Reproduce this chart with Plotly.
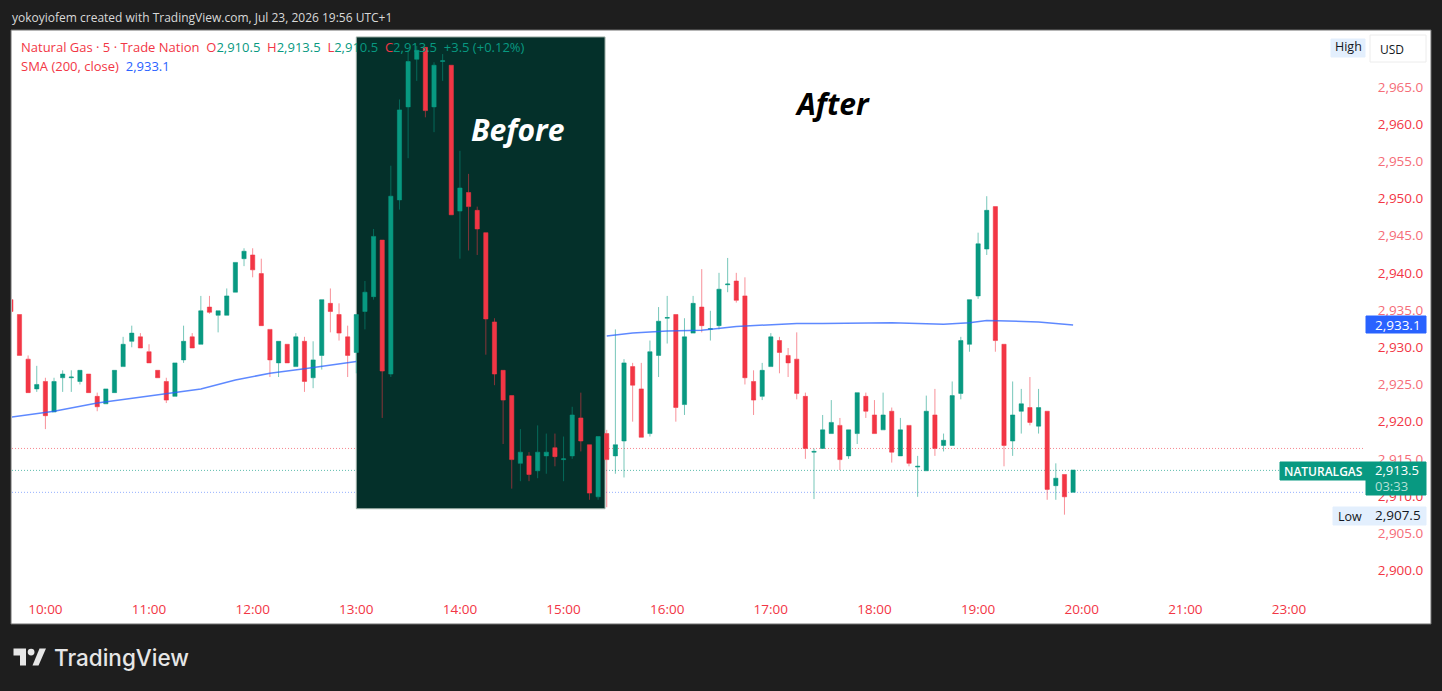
import pandas as pd
import plotly.graph_objects as go

W, H = 1442, 691
PLOT_L, PLOT_R, PLOT_T, PLOT_B = 12, 1365, 31, 594

UP = "#089981"
DOWN = "#f23645"
FONT = "Open Sans"

# 5 min bars, first one is 09:40
times = pd.date_range("2026-07-23 09:40", periods=124, freq="5min")

opens = [2936.4, 2934.4, 2928.4, 2924.4, 2925.4, 2921.3, 2925.9, 2925.9, 2925.4, 2926.4, 2923.4, 2922.4, 2923.9, 2927.4, 2930.8,
         2931.4, 2929.4, 2926.9, 2925.4, 2923.4, 2928.3, 2931.4, 2930.4, 2935.4, 2934.3, 2934.3, 2937.4, 2941.9, 2942.4, 2939.9,
         2932.4, 2927.9, 2930.4, 2927.4, 2930.8, 2925.9, 2928.9, 2935.9, 2934.4, 2931.4, 2929.3, 2934.8, 2936.8, 2944.4, 2926.4,
         2949.8, 2962.3, 2968.7, 2970.3, 2962.3, 2968.4, 2967.9, 2948.3, 2950.8, 2948.4, 2945.4, 2933.4, 2926.9, 2923.5, 2914.4,
         2915.4, 2913.4, 2915.4, 2916.5, 2914.9, 2915.4, 2920.5, 2916.9, 2909.9, 2918.4, 2915.4, 2917.4, 2927.4, 2924.4, 2918.4,
         2928.9, 2933.9, 2934.4, 2922.3, 2931.9, 2935.4, 2932.4, 2932.9, 2938.4, 2938.9, 2936.9, 2925.4, 2923.4, 2927.4, 2930.9,
         2928.9, 2928.4, 2923.4, 2915.9, 2916.4, 2918.4, 2919.5, 2915.4, 2918.4, 2923.4, 2920.9, 2918.9, 2921.4, 2915.4, 2919.5,
         2913.9, 2913.4, 2920.9, 2916.8, 2916.8, 2923.8, 2930.4, 2936.9, 2943.2, 2948.9, 2930.4, 2917.4, 2921.4, 2921.9, 2919.4,
         2921.4, 2911.4, 2912.9, 2910.5]
highs = [2936.4, 2934.4, 2928.9, 2927.5, 2925.9, 2925.9, 2926.9, 2926.9, 2926.9, 2926.4, 2923.9, 2924.4, 2926.9, 2931.4, 2932.9,
         2931.9, 2930.4, 2926.9, 2925.9, 2927.9, 2932.9, 2931.9, 2936.9, 2936.9, 2934.9, 2937.9, 2941.4, 2943.3, 2943.3, 2941.9,
         2932.4, 2930.8, 2930.4, 2931.9, 2931.4, 2930.8, 2936.4, 2937.9, 2935.9, 2932.9, 2934.4, 2938.9, 2945.9, 2944.4, 2954.4,
         2963.3, 2970.0, 2970.5, 2970.3, 2968.3, 2969.4, 2967.9, 2956.4, 2953.3, 2948.9, 2945.4, 2933.9, 2926.9, 2923.5, 2919.0,
         2915.9, 2919.5, 2918.4, 2918.4, 2918.0, 2922.0, 2923.9, 2916.9, 2918.0, 2918.9, 2932.4, 2928.4, 2927.9, 2927.9, 2930.9,
         2935.4, 2936.9, 2934.4, 2933.9, 2936.9, 2940.5, 2934.9, 2940.0, 2942.0, 2940.0, 2939.4, 2926.9, 2927.9, 2931.9, 2931.4,
         2929.9, 2932.0, 2923.9, 2916.4, 2920.9, 2922.9, 2920.5, 2918.9, 2923.9, 2923.9, 2922.9, 2923.9, 2921.9, 2920.5, 2919.5,
         2915.4, 2923.5, 2924.4, 2918.4, 2925.4, 2931.4, 2936.4, 2945.4, 2950.3, 2948.9, 2930.4, 2925.4, 2924.4, 2926.0, 2924.4,
         2921.4, 2914.4, 2912.9, 2913.5]
lows = [2934.8, 2928.9, 2923.9, 2924.0, 2919.0, 2921.3, 2924.0, 2924.0, 2925.0, 2923.9, 2921.4, 2922.4, 2923.9, 2927.4, 2930.0,
        2929.9, 2927.9, 2925.9, 2922.5, 2923.4, 2927.9, 2929.9, 2930.4, 2934.5, 2932.0, 2934.3, 2937.4, 2940.9, 2939.4, 2932.9,
        2926.0, 2926.0, 2927.9, 2927.4, 2924.0, 2924.5, 2927.0, 2932.0, 2930.9, 2926.0, 2926.5, 2932.4, 2936.4, 2920.5, 2926.0,
        2948.5, 2955.4, 2965.8, 2960.9, 2958.9, 2965.8, 2947.8, 2941.9, 2943.0, 2942.4, 2929.0, 2924.9, 2917.0, 2911.0, 2912.0,
        2912.0, 2912.4, 2913.0, 2914.0, 2912.0, 2915.0, 2916.0, 2909.5, 2909.5, 2908.5, 2913.0, 2912.5, 2920.0, 2917.9, 2918.0,
        2926.0, 2930.5, 2920.0, 2920.9, 2931.9, 2932.0, 2930.9, 2932.4, 2937.4, 2936.0, 2925.0, 2920.9, 2922.9, 2927.4, 2926.5,
        2926.0, 2923.0, 2915.0, 2909.6, 2916.4, 2918.4, 2913.5, 2915.0, 2917.0, 2920.5, 2918.4, 2918.9, 2914.5, 2915.4, 2914.0,
        2909.9, 2913.4, 2915.4, 2916.0, 2916.8, 2923.0, 2929.4, 2936.5, 2942.4, 2929.4, 2914.0, 2915.4, 2918.4, 2919.5, 2918.4,
        2909.5, 2909.5, 2907.5, 2910.5]
closes = [2934.8, 2928.9, 2923.9, 2925.0, 2920.8, 2925.4, 2926.4, 2926.0, 2926.9, 2923.9, 2922.0, 2924.4, 2926.9, 2930.4, 2931.9,
          2929.9, 2927.9, 2925.9, 2922.9, 2927.9, 2930.8, 2929.9, 2934.9, 2934.7, 2934.9, 2936.9, 2941.4, 2942.9, 2940.4, 2932.9,
          2928.3, 2930.8, 2927.9, 2931.4, 2925.4, 2928.3, 2936.4, 2934.8, 2931.9, 2928.9, 2934.4, 2937.4, 2944.9, 2926.8, 2950.3,
          2961.9, 2968.4, 2969.9, 2961.8, 2967.9, 2968.5, 2947.8, 2951.4, 2948.9, 2945.9, 2933.8, 2926.4, 2922.9, 2914.9, 2915.9,
          2912.9, 2915.9, 2915.9, 2915.3, 2915.0, 2920.9, 2917.4, 2910.4, 2918.0, 2914.9, 2916.9, 2927.9, 2924.9, 2917.9, 2929.4,
          2933.5, 2934.0, 2921.9, 2931.4, 2935.9, 2932.9, 2932.5, 2937.8, 2938.5, 2936.3, 2925.9, 2922.9, 2926.9, 2931.4, 2929.3,
          2927.9, 2923.8, 2916.4, 2916.0, 2918.9, 2919.9, 2914.9, 2918.9, 2923.9, 2921.4, 2918.4, 2920.9, 2915.9, 2918.9, 2914.4,
          2914.0, 2921.4, 2916.4, 2917.5, 2923.5, 2930.9, 2936.4, 2943.9, 2948.4, 2930.9, 2916.8, 2920.9, 2922.4, 2919.9, 2921.9,
          2910.9, 2912.4, 2909.9, 2913.5]

# SMA is covered by the dark box between 13:00 and 15:25
sma_times = ["09:40", "10:05", "10:30", "11:10", "11:30", "11:50", "12:10", "12:30", "12:45", "13:00", None,
             "15:25", "15:40", "16:00", "16:20", "16:40", "17:00", "17:15", "17:30", "18:10", "18:40", "18:55", "19:05", "19:35", "19:55"]
sma_values = [2920.6, 2921.4, 2922.5, 2923.8, 2924.4, 2925.6, 2926.5, 2927.1, 2927.6, 2928.1, None,
              2931.5, 2931.9, 2932.2, 2932.3, 2932.8, 2933.0, 2933.2, 2933.2, 2933.3, 2933.1, 2933.3, 2933.6, 2933.4, 2933.0]

hour_ticks = ["10:00", "11:00", "12:00", "13:00", "14:00", "15:00", "16:00", "17:00", "18:00", "19:00", "20:00", "21:00", "23:00"]
price_ticks = [2900, 2905, 2910, 2915, 2920, 2925, 2930, 2935, 2940, 2945, 2950, 2955, 2960, 2965]

high_line = 2916.4
last_line = 2913.45
open_line = 2910.5


def day(t):
    return None if t is None else f"2026-07-23 {t}"


def px(x):
    return (x - PLOT_L) / (PLOT_R - PLOT_L)


def py(y):
    return (PLOT_B - y) / (PLOT_B - PLOT_T)


def price_label(p):
    color = DOWN if p % 10 == 0 else "#f56d78"
    return f'<span style="color:{color}">{p:,.1f}</span>'


fig = go.Figure()

fig.add_trace(go.Candlestick(
    x=times, open=opens, high=highs, low=lows, close=closes,
    increasing=dict(line=dict(color="rgba(8,153,129,0.55)", width=1), fillcolor=UP),
    decreasing=dict(line=dict(color="rgba(242,54,69,0.55)", width=1), fillcolor=DOWN),
    whiskerwidth=0, hoverinfo="skip", showlegend=False,
))
fig.add_trace(go.Scatter(
    x=[day(t) for t in sma_times], y=sma_values, mode="lines",
    line=dict(color="#2962ff", width=1.5), opacity=0.75,
    hoverinfo="skip", showlegend=False,
))

# white panel + grey frame
fig.add_shape(type="rect", xref="paper", yref="paper", layer="below",
              x0=px(11), x1=px(1431), y0=py(624), y1=py(30),
              fillcolor="white", line=dict(color="#6f6f6f", width=1))

fig.add_shape(type="rect", xref="x", yref="y", layer="below",
              x0=day("13:00"), x1="2026-07-23 15:24", y0=2908.3, y1=2971.7,
              fillcolor="#04302a", line=dict(color="#9fb0a8", width=1))

for level, color in [(high_line, "rgba(242,54,69,0.6)"), (last_line, "rgba(8,153,129,0.65)"), (open_line, "rgba(41,98,255,0.5)")]:
    fig.add_shape(type="line", xref="paper", yref="y", layer="below", x0=0, x1=1, y0=level, y1=level,
                  line=dict(color=color, width=1, dash="1px,2px"))

# logo mark
logo = "M {} {} L {} {} L {} {} L {} {} L {} {} L {} {} Z".format(
    px(13.5), py(648.5), px(26), py(648.5), px(26), py(665.5), px(20), py(665.5), px(20), py(655.5), px(13.5), py(655.5))
slash = "M {} {} L {} {} L {} {} L {} {} Z".format(
    px(39.5), py(648.5), px(46), py(648.5), px(38.5), py(665.5), px(32.5), py(665.5))
fig.add_shape(type="path", path=logo, xref="paper", yref="paper", fillcolor="#e6e6e6", line_width=0)
fig.add_shape(type="path", path=slash, xref="paper", yref="paper", fillcolor="#e6e6e6", line_width=0)
fig.add_shape(type="circle", xref="paper", yref="paper", fillcolor="#e6e6e6", line_width=0,
              x0=px(27.7), x1=px(34.5), y0=py(655.5), y1=py(648.7))


def text(x, y, s, color="#131722", size=12, xanchor="left", font=FONT, weight=None):
    fig.add_annotation(xref="paper", yref="paper", x=px(x), y=py(y), text=s, showarrow=False,
                       xanchor=xanchor, yanchor="middle",
                       font=dict(color=color, size=size, family=font, weight=weight),
                       borderpad=0)


def box(x0, x1, y0, y1, color, border=None):
    fig.add_shape(type="rect", xref="paper", yref="paper", layer="above",
                  x0=px(x0), x1=px(x1), y0=py(y1), y1=py(y0), fillcolor=color,
                  line=dict(color=border or color, width=1))


def tag(s, c):
    return f'<span style="color:{c}">{s}</span>'


text(11, 17, "yokoyiofem created with TradingView.com, Jul 23, 2026 19:56 UTC+1", color="#d9d9d9", size=12)

legend = (tag("Natural Gas · 5 · Trade Nation\u00a0\u00a0O", DOWN) + tag("2,910.5\u00a0\u00a0", UP) + tag("H", DOWN) + tag("2,913.5\u00a0\u00a0", UP)
          + tag("L", DOWN) + tag("2,910.5\u00a0\u00a0", UP) + tag("C", DOWN) + tag("2,913.5\u00a0\u00a0+3.5 (+0.12%)", UP))
text(20, 47, legend, size=13)
text(20, 66, tag("SMA (200, close)\u00a0\u00a0", DOWN) + tag("2,933.1", "#2962ff"), size=13)

text(517, 129, "<b><i>Before</i></b>", color="white", size=30, xanchor="center")
text(832, 103, "<b><i>After</i></b>", color="black", size=30, xanchor="center")

box(1331, 1365, 39, 57, "#e3effd")
text(1348, 47, "High", size=12.5, xanchor="center")
box(1370, 1426, 35, 62, "white", "#ececec")
text(1392, 49, "USD", size=12, xanchor="center")

box(1366, 1426, 316, 333, "#2962ff")
text(1374, 324.5, "2,933.1", color="white", size=13.5)

box(1280, 1366, 462, 480, UP)
text(1323, 471, "NATURALGAS", color="white", size=12, xanchor="center", weight=600)
box(1366, 1426, 462, 495, UP)
text(1374, 469.5, "2,913.5", color="white", size=13)
text(1374, 486, "03:33", color="#b5e0d7", size=13)

box(1333, 1366, 507, 525, "#e3effd")
text(1349.5, 516, "Low", size=12.5, xanchor="center")
box(1366, 1426, 507, 525, "#e3effd")
text(1374, 515, "2,907.5", size=13.5)

text(53, 657, "TradingView", color="#e6e6e6", size=22.5, font="Inter", weight=500)

fig.update_layout(
    width=W, height=H,
    margin=dict(l=PLOT_L, r=W - PLOT_R, t=PLOT_T, b=H - PLOT_B, autoexpand=False),
    paper_bgcolor="#1e1e1e", plot_bgcolor="white",
    showlegend=False, hovermode=False, boxgap=0.3,
    font=dict(family=FONT),
    xaxis=dict(
        rangeslider=dict(visible=False), type="date",
        range=["2026-07-23 09:40:40", "2026-07-23 23:44"],
        rangebreaks=[dict(bounds=[22, 23], pattern="hour")],
        tickmode="array", tickvals=[day(t) for t in hour_ticks], ticktext=hour_ticks,
        tickfont=dict(color=DOWN, size=13.5), showgrid=False, zeroline=False, showline=False,
        ticks="outside", ticklen=3, tickcolor="rgba(0,0,0,0)",
    ),
    yaxis=dict(
        side="right", range=[2896.84, 2972.5],
        tickmode="array", tickvals=price_ticks, ticktext=[price_label(p) for p in price_ticks],
        tickfont=dict(color=DOWN, size=13.5), showgrid=False, zeroline=False, showline=False,
        ticks="outside", ticklen=9, tickcolor="rgba(0,0,0,0)",
    ),
)

fig.write_html("out.html", config=dict(displayModeBar=False),
               post_script="document.body.style.margin='0';document.body.style.overflow='hidden';")
